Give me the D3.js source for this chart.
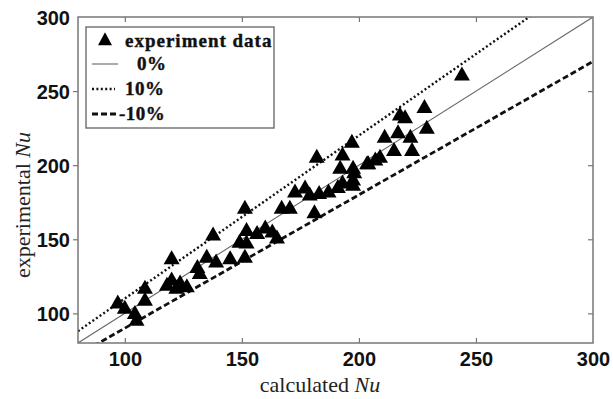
<!DOCTYPE html>
<html><head><meta charset="utf-8">
<script src="https://cdn.jsdelivr.net/npm/d3@7"></script>
<style>body{margin:0;background:#fff}</style>
</head><body>
<svg id="c" width="613" height="399"></svg>
<script>
const calcNu = [97,100,104.3,105,108.6,108.6,120,118,120,123.6,126.5,122,131,132,135,137.7,139,145,151.3,151.3,149,152,152,156.5,160,163,165,167,170.5,182,181,172.7,177,179,183,187,191,192,193,197,198,197.5,203.5,207,244,228,217.5,219.7,229,211,216.7,222,215,222.7,209,204,197.5,197.5,193];
const expNu  = [107,103.6,100,95.5,117,109,137,119,122.5,120.5,118,117,131,127,138,153,134.7,137,171,138,148,147.5,156,154,157.6,155,151,171,171,205.5,168,182,184.6,180,181,182,185,198,207,215.6,195,186.6,201,203.5,261,239,234,232,225,219,222,219,210,210,205.5,201,198,190,188];
const xTicks = [100,150,200,250,300];
const yTicks = [100,150,200,250,300];
const refLines = [
  {name:"0%", factor:1.0},
  {name:"10%", factor:1.1},
  {name:"-10%", factor:0.9}
];
const legendLabels = ["experiment data","0%","10%","-10%"];

const svg = d3.select("#c");
const L=78,R=593,T=17,B=343;
const x = d3.scaleLinear().domain([80,300]).range([L,R]);
const y = d3.scaleLinear().domain([80,300]).range([B,T]);

const styles = {
  "0%": {stroke:"#666", w:1.1, dash:null},
  "10%": {stroke:"#111", w:2.4, dash:"2,2.4"},
  "-10%": {stroke:"#111", w:2.8, dash:"6,3"}
};

svg.append("clipPath").attr("id","clip").append("rect").attr("x",L).attr("y",T).attr("width",R-L).attr("height",B-T);
const plot = svg.append("g").attr("clip-path","url(#clip)");

refLines.forEach(r=>{
  const s = styles[r.name];
  const xs = [80,300];
  plot.append("path")
    .attr("d", d3.line()(xs.map(v=>[x(v), y(v*r.factor)])))
    .attr("fill","none").attr("stroke",s.stroke).attr("stroke-width",s.w)
    .attr("stroke-dasharray",s.dash);
});

const tri = (cx,cy,w,h)=>`M${cx},${cy-h*0.6}L${cx+w/2},${cy+h*0.4}L${cx-w/2},${cy+h*0.4}Z`;
plot.selectAll("path.pt").data(calcNu.map((v,i)=>[v,expNu[i]])).enter().append("path")
  .attr("class","pt").attr("d",d=>tri(x(d[0]),y(d[1]),16,14)).attr("fill","#000");

// frame
svg.append("rect").attr("x",L).attr("y",T).attr("width",R-L).attr("height",B-T)
  .attr("fill","none").attr("stroke","#777").attr("stroke-width",1.5);

// axes
const tickLen=5;
const gx = svg.append("g").attr("transform",`translate(0,${B})`)
  .call(d3.axisBottom(x).tickValues(xTicks).tickSizeInner(-tickLen).tickSizeOuter(0).tickPadding(9));
const gxt = svg.append("g").attr("transform",`translate(0,${T})`)
  .call(d3.axisTop(x).tickValues(xTicks.slice(0,-1)).tickSizeInner(-tickLen).tickSizeOuter(0).tickFormat(""));
const gy = svg.append("g").attr("transform",`translate(${L},0)`)
  .call(d3.axisLeft(y).tickValues(yTicks).tickSizeInner(tickLen).tickSizeOuter(0).tickPadding(3));
const gyr = svg.append("g").attr("transform",`translate(${R},0)`)
  .call(d3.axisRight(y).tickValues(yTicks.slice(0,-1)).tickSizeInner(-tickLen).tickSizeOuter(0).tickFormat(""));
[gx,gxt,gy,gyr].forEach(g=>{
  g.select(".domain").remove();
  g.selectAll(".tick line").attr("stroke","#777").attr("stroke-width",1.2);
  g.selectAll("text").attr("font-family","Liberation Sans, Arial, sans-serif").attr("font-size",20)
   .attr("font-weight","bold").attr("fill","#111");
});
gx.selectAll(".tick line").filter(d=>d===300).remove();
gy.selectAll(".tick line").filter(d=>d===300).remove();
gy.selectAll("text").attr("dy","0.36em");

// axis titles
const xt = svg.append("text").attr("x",320).attr("y",392).attr("text-anchor","middle")
  .attr("font-family","Liberation Serif, Times New Roman, serif").attr("font-size",22).attr("fill","#222");
xt.append("tspan").text("calculated ");
xt.append("tspan").attr("font-style","italic").text("Nu");
const yt = svg.append("text").attr("transform","translate(30,205) rotate(-90)").attr("text-anchor","middle")
  .attr("font-family","Liberation Serif, Times New Roman, serif").attr("font-size",22).attr("fill","#222");
yt.append("tspan").text("experimental ");
yt.append("tspan").attr("font-style","italic").text("Nu");

// legend
const lg = svg.append("g");
lg.append("rect").attr("x",86).attr("y",27).attr("width",188).attr("height",101)
  .attr("fill","#fff").attr("stroke","#777").attr("stroke-width",1.5);
const rowY = [47,70,95,120];
const textX = [125,137,125,119];
lg.append("path").attr("d",tri(105,40,14,13)).attr("fill","#000");
refLines.forEach((r,i)=>{
  const s = styles[r.name];
  lg.append("line").attr("x1",92).attr("x2", r.name==="10%"?115:118)
    .attr("y1",rowY[i+1]-6).attr("y2",rowY[i+1]-6)
    .attr("stroke",s.stroke).attr("stroke-width",s.w).attr("stroke-dasharray",s.dash);
});
legendLabels.forEach((t,i)=>{
  lg.append("text").attr("x",textX[i]).attr("y",rowY[i]).text(t)
    .attr("font-family","Liberation Serif, Times New Roman, serif").attr("font-weight","bold")
    .attr("font-size",19).attr("letter-spacing", i===0?1:0.5).attr("fill","#111")
    .attr("stroke","#111").attr("stroke-width",0.4);
});
</script>
</body></html>
